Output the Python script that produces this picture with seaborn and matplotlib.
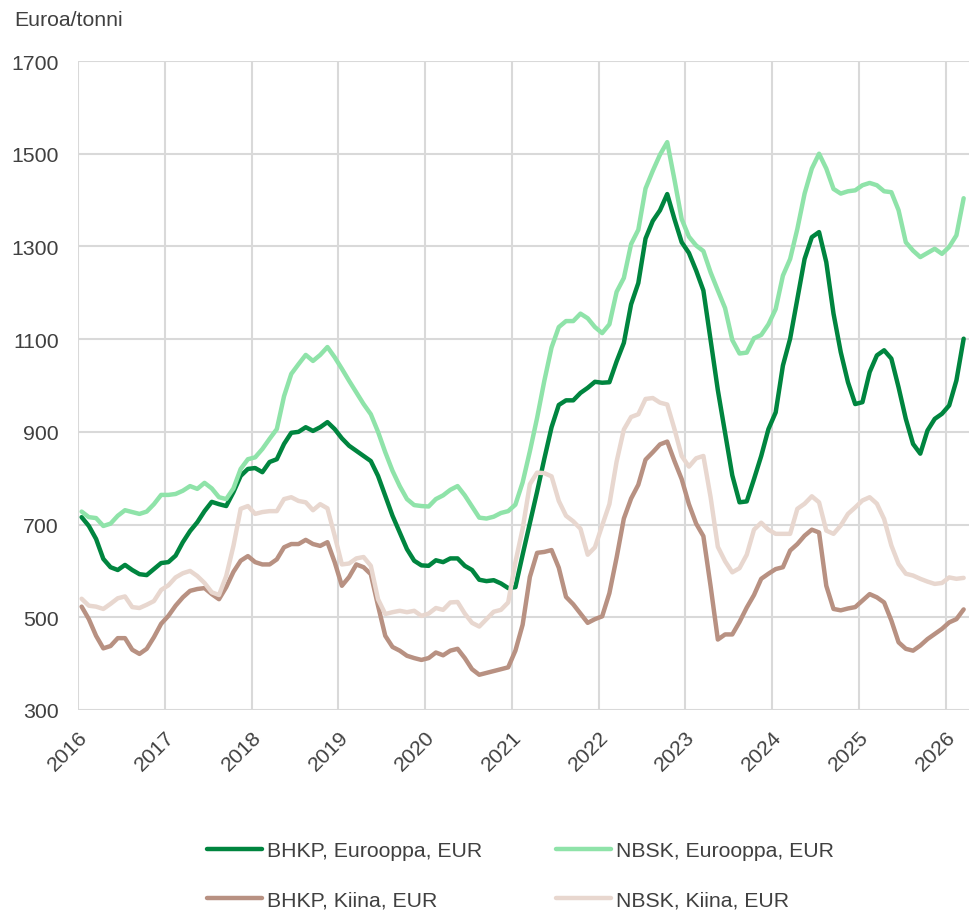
import numpy as np
import pandas as pd
import matplotlib
matplotlib.use("Agg")
import matplotlib.pyplot as plt
import seaborn as sns

# Monthly pulp prices, EUR/tonne, Jan 2016 - Mar 2026
bhkp_europe = [
    716, 697, 669, 626, 608, 602, 613, 602, 593, 591, 604, 617,
    619, 633, 662, 686, 705, 729, 749, 744, 740, 770, 805, 820,
    822, 813, 835, 841, 874, 898, 900, 910, 902, 910, 921, 906,
    886, 870, 859, 848, 837, 805, 762, 719, 683, 647, 622, 612,
    611, 623, 619, 627, 627, 611, 602, 581, 578, 580, 573, 563,
    565, 635, 703, 771, 842, 910, 958, 968, 968, 984, 995, 1008,
    1006, 1007, 1052, 1092, 1175, 1221, 1317, 1355, 1378, 1413, 1359, 1309,
    1286, 1248, 1205, 1098, 990, 898, 806, 748, 750, 798, 848, 906,
    942, 1043, 1101, 1187, 1273, 1320, 1331, 1266, 1155, 1072, 1007, 960,
    964, 1029, 1065, 1076, 1058, 996, 928, 874, 853, 903, 928, 939,
    957, 1011, 1101,
]
nbsk_europe = [
    728, 716, 714, 697, 702, 719, 731, 727, 723, 728, 744, 764,
    764, 766, 773, 783, 777, 790, 778, 759, 755, 778, 820, 841,
    845, 863, 885, 906, 977, 1025, 1046, 1066, 1053, 1066, 1083, 1061,
    1036, 1010, 985, 960, 938, 900, 856, 816, 783, 755, 742, 740,
    739, 755, 763, 775, 783, 763, 739, 715, 713, 717, 725, 729,
    743, 791, 858, 930, 1010, 1082, 1126, 1139, 1139, 1155, 1145, 1126,
    1113, 1132, 1202, 1232, 1305, 1336, 1425, 1463, 1498, 1525, 1444, 1359,
    1321, 1302, 1290, 1244, 1205, 1167, 1098, 1069, 1071, 1102, 1109, 1132,
    1165, 1237, 1273, 1338, 1414, 1468, 1500, 1468, 1424, 1414, 1419, 1421,
    1432, 1437, 1432, 1419, 1417, 1378, 1309, 1291, 1277, 1286, 1295, 1284,
    1299, 1324, 1404,
]
bhkp_china = [
    523, 496, 460, 433, 438, 455, 455, 430, 421, 432, 457, 486,
    503, 525, 543, 557, 561, 563, 550, 539, 565, 598, 622, 632,
    619, 614, 614, 625, 651, 658, 658, 667, 658, 654, 662, 619,
    568, 587, 614, 608, 593, 525, 460, 436, 428, 417, 412, 408,
    412, 424, 418, 428, 432, 412, 388, 376, 380, 384, 388, 392,
    428, 484, 587, 639, 641, 645, 607, 544, 528, 508, 488, 496,
    502, 552, 629, 713, 756, 786, 840, 856, 873, 879, 837, 798,
    744, 702, 675, 567, 452, 463, 463, 490, 521, 548, 583, 594,
    604, 608, 644, 658, 676, 689, 683, 568, 518, 515, 519, 522,
    536, 550, 543, 532, 493, 446, 432, 428, 439, 453, 464, 475,
    489, 496, 517,
]
nbsk_china = [
    540, 525, 523, 518, 529, 541, 545, 522, 520, 527, 535, 559,
    569, 586, 595, 600, 589, 574, 554, 548, 589, 654, 734, 740,
    723, 727, 729, 729, 755, 759, 751, 748, 731, 744, 735, 676,
    614, 616, 627, 630, 611, 539, 507, 511, 514, 511, 514, 503,
    508, 520, 516, 532, 533, 508, 488, 480, 496, 512, 516, 532,
    619, 691, 787, 812, 811, 804, 751, 719, 707, 691, 635, 651,
    698, 744, 836, 905, 932, 938, 971, 973, 963, 959, 906, 848,
    825, 843, 848, 759, 652, 621, 597, 606, 635, 689, 704, 689,
    680, 680, 680, 734, 745, 761, 748, 687, 680, 698, 723, 737,
    752, 759, 745, 712, 655, 615, 594, 590, 583, 577, 572, 574,
    586, 583, 585,
]

series_names = [
    "BHKP, Eurooppa, EUR",
    "BHKP, Kiina, EUR",
    "NBSK, Eurooppa, EUR",
    "NBSK, Kiina, EUR",
]
series_values = [bhkp_europe, bhkp_china, nbsk_europe, nbsk_china]
colors = ["#00853F", "#B89182", "#8FE3A9", "#E8D7CF"]

# points sit in the middle of each month
months = pd.date_range("2016-01-01", periods=len(bhkp_europe), freq="MS")
xpos = months.year + (months.month - 0.5) / 12

frames = []
for name, vals in zip(series_names, series_values):
    frames.append(pd.DataFrame({"x": xpos, "value": vals, "series": name}))
df = pd.concat(frames, ignore_index=True)

sns.set_style("white")
plt.rcParams["font.family"] = ["Liberation Sans", "DejaVu Sans"]
text_color = "#404040"
fs = 15.3

fig = plt.figure(figsize=(9.69, 9.12), dpi=100)
ax = fig.add_axes([0.0805, 0.2204, 0.9195, 0.7116])

sns.lineplot(data=df, x="x", y="value", hue="series", hue_order=series_names,
             palette=dict(zip(series_names, colors)), linewidth=3.2,
             ax=ax, legend=False)

ax.set_xlim(2016, 2026.27)
ax.set_ylim(300, 1700)
ax.set_yticks(range(300, 1701, 200))
years = list(range(2016, 2027))
ax.set_xticks(years)
ax.set_xticklabels([str(y) for y in years], rotation=45, ha="right",
                   rotation_mode="anchor")
ax.tick_params(axis="both", labelsize=fs, colors=text_color, length=0)
ax.tick_params(axis="y", pad=14)
ax.tick_params(axis="x", pad=12)
ax.grid(True, color="#D9D9D9", linewidth=1.5)
ax.set_axisbelow(True)
for s in ax.spines.values():
    s.set_visible(False)
ax.set_xlabel("")
ax.set_ylabel("")

fig.text(0.015, 0.978, "Euroa/tonni", fontsize=fs, color=text_color,
         ha="left", va="center")

handles = [plt.Line2D([], [], color=c, linewidth=3.2) for c in colors]
fig.legend(handles, series_names, loc="center", bbox_to_anchor=(0.537, 0.039),
           ncol=2, frameon=False, fontsize=fs, handlelength=2.6,
           handletextpad=0.2, columnspacing=3.5, labelspacing=1.45,
           labelcolor=text_color)

fig.savefig("out.png", dpi=100)
